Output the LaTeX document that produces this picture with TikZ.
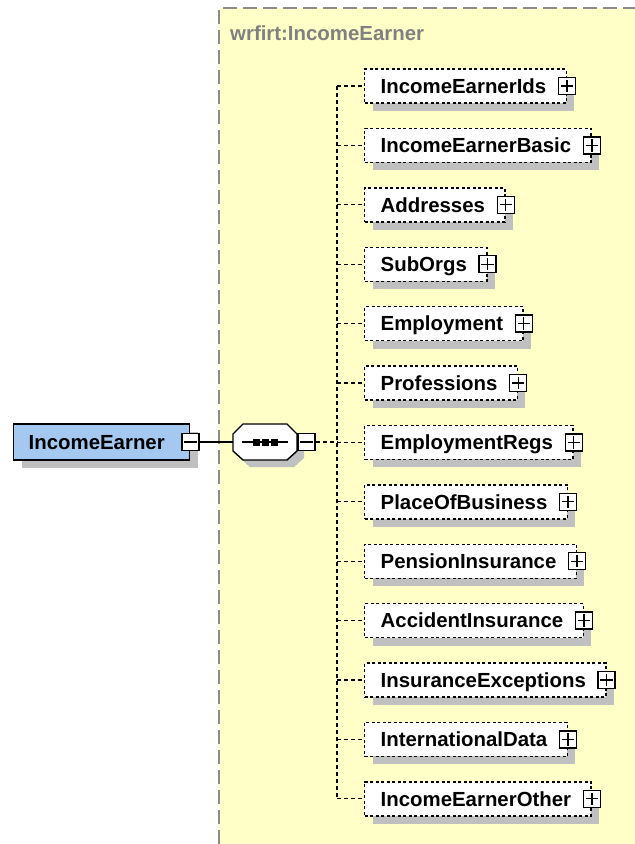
\documentclass[tikz,border=0pt]{standalone}
\usepackage{fontspec}
\setmainfont{Liberation Sans}
\usetikzlibrary{shadows}
\definecolor{bgyellow}{RGB}{255,255,200}
\definecolor{elemblue}{RGB}{164,200,240}
\definecolor{shadowgray}{RGB}{192,192,192}
\newcommand\elemfont{\fontsize{20.4}{24}\selectfont\bfseries}

\begin{document}
\begin{tikzpicture}[x=1pt,y=-1pt,
  elem/.style={draw, line width=1.4pt, minimum height=34pt, inner xsep=0pt,
    text height=14.6pt, text depth=0pt, anchor=west, font=\elemfont,
    drop shadow={shadow xshift=8pt, shadow yshift=-8pt, fill=shadowgray, opacity=1}},
  optelem/.style={elem, fill=white, dash pattern=on 3pt off 2.5pt},
  pmbox/.style={draw, fill=white, line width=1.3pt, minimum size=17pt, inner sep=0pt},
  conn/.style={line width=1.3pt, dash pattern=on 4pt off 3pt}]
  \useasboundingbox (0,0) rectangle (635,844);
  \fill[white] (0,0) rectangle (635,844);
  % complex type area
  \fill[bgyellow] (219,8) rectangle (635,844);
  \draw[black!45, line width=1.5pt, dash pattern=on 14pt off 6pt] (219,844) -- (219,8) -- (635,8);
  \node[anchor=base west, inner sep=0pt, text=black!50, font=\elemfont] (tname) at (230,40) {wrfirt:IncomeEarner};

  % root element
  \node[elem, fill=elemblue, minimum height=36pt] (root) at (13,442) {\hspace*{15pt}IncomeEarner\hspace*{25pt}};
  \node[pmbox] (rootmin) at (root.east) {};
  \draw[line width=1.3pt] ([xshift=3pt]rootmin.west) -- ([xshift=-3pt]rootmin.east);

  % sequence
  \node[minimum width=64pt, minimum height=36pt, inner sep=0pt] (seq) at (265,442) {};
  \fill[shadowgray] (250,431) -- (294,431) -- (304,441) -- (304,458) -- (294,467)
    -- (250,467) -- (240,458) -- (240,441) -- cycle;
  \draw[line width=1.4pt, fill=white] (243,424) -- (287,424) -- (297,434) -- (297,451)
    -- (287,460) -- (243,460) -- (233,451) -- (233,434) -- cycle;
  \draw[line width=1.3pt] (242,442) -- (288,442);
  \foreach \x in {256,265,274}
    \fill (\x-3.5,438.5) rectangle +(7,7);
  \node[pmbox, anchor=west] (seqmin) at (seq.east) {};
  \draw[line width=1.3pt] ([xshift=3pt]seqmin.west) -- ([xshift=-3pt]seqmin.east);
  \draw[line width=1.3pt] (rootmin.east) -- (seq.west);

  % children
  \foreach \name [count=\i] in {IncomeEarnerIds, IncomeEarnerBasic, Addresses,
      SubOrgs, Employment, Professions, EmploymentRegs, PlaceOfBusiness,
      PensionInsurance, AccidentInsurance, InsuranceExceptions,
      InternationalData, IncomeEarnerOther} {
    \coordinate (j\i) at (337,{86+59.4*(\i-1)});
    \node[optelem] (c\i) at (364,{86+59.4*(\i-1)}) {\hspace*{16pt}\name\hspace*{20pt}};
    \node[pmbox] (p\i) at (c\i.east) {};
    \draw[line width=1.3pt] ([xshift=3pt]p\i.west) -- ([xshift=-3pt]p\i.east)
      ([yshift=3pt]p\i.south) -- ([yshift=-3pt]p\i.north);
    \draw[conn] (j\i) -- (c\i.west);
  }
  \draw[conn] (seqmin.east) -- (seqmin.east -| j1);
  \draw[conn] (j1) -- (j13);
\end{tikzpicture}
\end{document}
